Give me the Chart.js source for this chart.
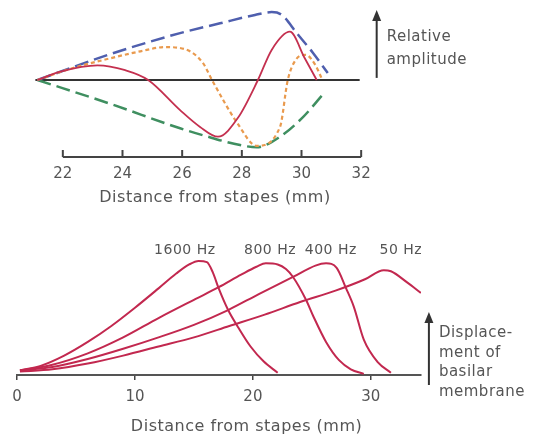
<!DOCTYPE html>
<html>
<head>
<meta charset="utf-8">
<script src="https://cdn.jsdelivr.net/npm/chart.js@4"></script>
<style>
  html, body { margin:0; padding:0; background:#fff; }
  #wrap { position:relative; width:533px; height:442px; overflow:hidden; }
  canvas { position:absolute; left:0; }
  #topChart { top:0; }
  #bottomChart { top:222px; }
</style>
</head>
<body>
<div id="wrap">
  <canvas id="topChart" width="533" height="220"></canvas>
  <canvas id="bottomChart" width="533" height="220"></canvas>
</div>
<script>
// ---- top panel: one travelling wave, distance from stapes (mm) vs relative amplitude
const topTicks = [22, 24, 26, 28, 30, 32];
const baseline = [[21.08, 0], [31.95, 0]];
const waveSolid = [[21.15,0],[21.92,0.12],[23.16,0.21],[24.09,0.14],[24.86,0],[25.93,-0.43],[26.6,-0.67],
  [27.2,-0.81],[27.87,-0.54],[28.54,0],[29.0,0.43],[29.61,0.69],[30.11,0.31],[30.51,0]];
const waveDotted = [[21.15,0],[22.25,0.16],[23.59,0.31],[24.6,0.41],[25.43,0.47],[26.1,0.44],[26.7,0.24],
  [27.0,0],[27.84,-0.61],[28.5,-0.94],[29.28,-0.67],[29.54,0],[29.81,0.29],[30.14,0.36],[30.47,0.21],[30.67,0.03]];
const envUpper = [[21.15,0],[23.59,0.37],[25.93,0.67],[27.27,0.81],[28.44,0.93],[29.0,0.97],[29.34,0.93],
  [29.84,0.67],[30.38,0.39],[30.88,0.1]];
const envLower = [[21.15,0],[23.59,-0.34],[25.93,-0.69],[26.7,-0.79],[27.94,-0.93],[28.5,-0.96],[29.28,-0.81],
  [30.05,-0.53],[30.71,-0.21]];

// ---- bottom panel: displacement envelopes per frequency
const bottomTicks = [0, 10, 20, 30];
const freqLabels = ['1600 Hz', '800 Hz', '400 Hz', '50 Hz'];
const freqLabelX = [14.23, 21.45, 26.6, 32.54];
const disp1600 = [[0.25,0.04],[2,0.08],[4,0.17],[6,0.29],[8,0.43],[10,0.59],[12,0.76],[13.5,0.89],[14.6,0.97],
  [15.4,1.0],[16.1,0.99],[16.6,0.9],[17.1,0.76],[17.9,0.57],[18.8,0.41],[19.8,0.25],[20.9,0.12],[22.1,0.02]];
const disp800 = [[0.25,0.04],[3,0.09],[6,0.19],[9,0.33],[12,0.5],[15,0.66],[17.1,0.77],[19,0.88],[20.3,0.95],
  [21.1,0.98],[22.1,0.97],[22.8,0.93],[23.4,0.86],[24.5,0.66],[25.1,0.52],[26.2,0.29],[27.3,0.13],[28.3,0.05],[29.4,0.01]];
const disp400 = [[0.25,0.04],[3,0.07],[6,0.14],[9,0.23],[12,0.33],[15,0.44],[17.9,0.57],[20.5,0.71],[23.4,0.86],
  [25.3,0.96],[26.2,0.98],[27.1,0.94],[27.9,0.76],[28.55,0.6],[29.4,0.31],[30.6,0.11],[31.7,0.02]];
const disp50 = [[0.25,0.03],[3,0.05],[6,0.1],[9,0.17],[12,0.25],[15,0.33],[18,0.43],[21,0.53],[24,0.64],[27,0.74],
  [29.5,0.84],[31.1,0.92],[31.7,0.91],[33.1,0.81],[34.24,0.72]];

const FONT = '"DejaVu Sans", sans-serif';
const GREY = '#555';
const pts = arr => arr.map(p => ({x: p[0], y: p[1]}));

function line(data, color, width, dash) {
  return { data: pts(data), borderColor: color, borderWidth: width, borderDash: dash || [],
    pointRadius: 0, fill: false, cubicInterpolationMode: 'monotone', borderCapStyle: 'butt' };
}

function text(ctx, s, x, y, size, align) {
  ctx.font = size + 'px ' + FONT;
  ctx.letterSpacing = '0.5px';
  ctx.fillStyle = GREY;
  ctx.textAlign = align || 'left';
  ctx.textBaseline = 'middle';
  ctx.fillText(s, x, y);
}

function arrow(ctx, x, yBottom, yTop) {
  ctx.strokeStyle = '#333'; ctx.fillStyle = '#333'; ctx.lineWidth = 2;
  ctx.beginPath(); ctx.moveTo(x, yBottom); ctx.lineTo(x, yTop + 8); ctx.stroke();
  ctx.beginPath(); ctx.moveTo(x, yTop); ctx.lineTo(x - 4.5, yTop + 11); ctx.lineTo(x + 4.5, yTop + 11);
  ctx.closePath(); ctx.fill();
}

const topDeco = {
  id: 'topDeco',
  afterDraw(chart) {
    const {ctx, chartArea, scales: {x, y}} = chart;
    const yb = chartArea.bottom;
    ctx.save();
    ctx.strokeStyle = '#444'; ctx.lineWidth = 2;
    ctx.beginPath();
    ctx.moveTo(x.getPixelForValue(topTicks[0]), yb);
    ctx.lineTo(x.getPixelForValue(topTicks[topTicks.length - 1]), yb);
    topTicks.forEach(v => {
      const px = x.getPixelForValue(v);
      ctx.moveTo(px, yb); ctx.lineTo(px, yb - 7);
    });
    ctx.stroke();
    const ax = x.getPixelForValue(32.52);
    const at = y.getPixelForValue(1.0);
    arrow(ctx, ax, y.getPixelForValue(0.03), at);
    text(ctx, 'Relative', ax + 10, at + 27, 15);
    text(ctx, 'amplitude', ax + 10, at + 50, 15);
    text(ctx, 'Distance from stapes (mm)', x.getPixelForValue(27.1), yb + 41, 16, 'center');
    ctx.restore();
  }
};

const bottomDeco = {
  id: 'bottomDeco',
  afterDraw(chart) {
    const {ctx, chartArea, scales: {x, y}} = chart;
    ctx.save();
    freqLabels.forEach((s, i) => text(ctx, s, x.getPixelForValue(freqLabelX[i]), y.getPixelForValue(1.09), 14, 'center'));
    const ax = x.getPixelForValue(34.92);
    const at = y.getPixelForValue(0.553);
    arrow(ctx, ax, y.getPixelForValue(-0.088), at);
    ['Displace-', 'ment of', 'basilar', 'membrane'].forEach((s, i) => text(ctx, s, ax + 10, at + 21 + i * 19.7, 15));
    text(ctx, 'Distance from stapes (mm)', x.getPixelForValue(19.46), chartArea.bottom + 52, 16, 'center');
    ctx.restore();
  }
};

new Chart(document.getElementById('topChart'), {
  type: 'line',
  data: { datasets: [
    line(waveSolid, '#c4304f', 1.8),
    line(waveDotted, '#e99a4e', 2.2, [4, 3]),
    line(envUpper, '#4f5fae', 2.5, [14, 6]),
    line(envLower, '#3f8f60', 2.5, [14, 6]),
    line(baseline, '#333', 2)
  ]},
  options: {
    responsive: false, animation: false,
    layout: { padding: { left: 33, right: 142, top: 0, bottom: 0 } },
    plugins: { legend: { display: false }, tooltip: { enabled: false } },
    scales: {
      x: { type: 'linear', min: 21, max: 33,
        afterBuildTicks: s => { s.ticks = topTicks.map(v => ({value: v})); },
        afterFit: s => { s.height = 63; },
        grid: { display: false, drawTicks: false }, border: { display: false },
        ticks: { color: GREY, padding: 8, font: { family: FONT, size: 15 } } },
      y: { display: false, min: -1.1, max: 1.143 }
    }
  },
  plugins: [topDeco]
});

new Chart(document.getElementById('bottomChart'), {
  type: 'line',
  data: { datasets: [
    line(disp1600, '#c2284f', 2),
    line(disp800, '#c2284f', 2),
    line(disp400, '#c2284f', 2),
    line(disp50, '#c2284f', 2)
  ]},
  options: {
    responsive: false, animation: false,
    layout: { padding: { left: 17, right: 112, top: 25, bottom: 0 } },
    plugins: { legend: { display: false }, tooltip: { enabled: false } },
    scales: {
      x: { type: 'linear', min: 0, max: 34.25,
        afterBuildTicks: s => { s.ticks = bottomTicks.map(v => ({value: v})); },
        afterFit: s => { s.height = 67; },
        grid: { display: true, drawOnChartArea: false, drawTicks: true, tickLength: 5, color: '#444', lineWidth: 1.5 },
        border: { display: true, color: '#555', width: 2 },
        ticks: { color: GREY, padding: 8, font: { family: FONT, size: 15 } } },
      y: { display: false, min: 0, max: 1.123 }
    }
  },
  plugins: [bottomDeco]
});
</script>
</body>
</html>
